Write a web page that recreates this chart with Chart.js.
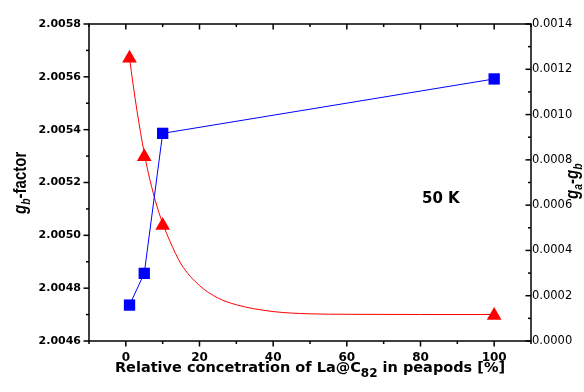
<!DOCTYPE html>
<html>
<head>
<meta charset="utf-8">
<script src="https://cdn.jsdelivr.net/npm/chart.js@4.4.1/dist/chart.umd.min.js"></script>
<style>
  html, body { margin: 0; padding: 0; background: #fff; }
  #wrap { width: 584px; height: 392px; }
</style>
</head>
<body>
<div id="wrap"><canvas id="chart"></canvas></div>
<script>
// concentration of La@C82 in peapods [%]
let conc = [1, 5, 10, 100]
// g_b-factor (left axis, blue squares)
let gb = [2.004736, 2.004856, 2.005386, 2.005592]
// g_a - g_b (right axis, red triangles)
let gaGb = [0.001249, 0.000814, 0.000510, 0.000113]
// fitted decay curve (right axis)
let fitX = [1, 2, 3, 4, 5, 6, 8, 10, 12, 15, 20, 25, 30, 40, 50, 60, 80, 100]
let fitY = [0.00125, 0.00113, 0.00102, 0.00092, 0.00083, 0.00075, 0.00062, 0.00052, 0.00044, 0.00034, 0.000245, 0.00019, 0.00016, 0.00013, 0.00012, 0.000118, 0.000117, 0.000117]

let xTicks = [0, 20, 40, 60, 80, 100]
let leftTicks = [2.0046, 2.0048, 2.0050, 2.0052, 2.0054, 2.0056, 2.0058]
let rightTicks = [0, 0.0002, 0.0004, 0.0006, 0.0008, 0.0010, 0.0012, 0.0014]

function toPts(xs, ys) {
    return xs.map((x, i) => ({x: x, y: ys[i]}))
}

function setTicks(list) {
    return s => { s.ticks = list.map(v => ({value: v})) }
}

// tick marks: dir is +1/-1 along the perpendicular
function marks(ctx, scale, list, horizontal, base, dir) {
    let step = list[1] - list[0]
    let vals = []
    list.forEach(v => { vals.push([v, 5.5]); vals.push([v + step / 2, 3]) })
    vals.push([list[0] - step / 2, 3])
    vals.forEach(([v, len]) => {
        if (v < scale.min - 1e-9 || v > scale.max + 1e-9) return
        let p = scale.getPixelForValue(v)
        ctx.beginPath()
        if (horizontal) { ctx.moveTo(p, base); ctx.lineTo(p, base + dir * len) }
        else { ctx.moveTo(base, p); ctx.lineTo(base + dir * len, p) }
        ctx.stroke()
    })
}

function rotTitle(ctx, x, y, parts) {
    ctx.save()
    ctx.translate(x, y)
    ctx.rotate(-Math.PI / 2)
    ctx.scale(1, 1.2)
    ctx.textBaseline = 'alphabetic'
    ctx.textAlign = 'left'
    let pos = 0
    parts.forEach(([txt, font, dy]) => {
        ctx.font = font
        ctx.fillText(txt, pos, dy)
        pos += ctx.measureText(txt).width
    })
    ctx.restore()
}

const frame = {
    id: 'frame',
    afterDraw(chart) {
        const {ctx, chartArea: a, scales} = chart
        ctx.save()
        ctx.strokeStyle = '#000'
        ctx.lineWidth = 1.5
        ctx.strokeRect(a.left, a.top, a.right - a.left, a.bottom - a.top)
        marks(ctx, scales.x, xTicks, true, a.bottom, 1)
        marks(ctx, scales.x, xTicks, true, a.top, 1)
        marks(ctx, scales.y, leftTicks, false, a.left, -1)
        marks(ctx, scales.y2, rightTicks, false, a.right, -1)

        ctx.fillStyle = '#000'
        // x axis title with subscript
        let t1 = 'Relative concetration of La@C', sub = '82', t2 = ' in peapods [%]'
        let big = 'bold 14.5px "DejaVu Sans"', small = 'bold 12px "DejaVu Sans"'
        ctx.font = big
        let w1 = ctx.measureText(t1).width, w3 = ctx.measureText(t2).width
        ctx.font = small
        let w2 = ctx.measureText(sub).width
        let x0 = (a.left + a.right) / 2 - (w1 + w2 + w3) / 2
        ctx.textBaseline = 'alphabetic'
        ctx.textAlign = 'left'
        ctx.font = big
        ctx.fillText(t1, x0, 372)
        ctx.font = small
        ctx.fillText(sub, x0 + w1, 377)
        ctx.font = big
        ctx.fillText(t2, x0 + w1 + w2, 372)

        // rotated titles
        let gI = 'italic bold 15px "Liberation Sans"'
        let sI = 'italic bold 10.5px "Liberation Sans"'
        let nB = 'bold 15px "Liberation Sans"'
        rotTitle(ctx, 26, 214, [['g', gI, 0], ['b', sI, 3], ['-factor', nB, 0]])
        rotTitle(ctx, 578, 199, [['g', gI, 0], ['a', sI, 3], ['-', nB, 0], ['g', gI, 0], ['b', sI, 3]])

        // temperature label
        ctx.font = 'bold 15px "DejaVu Sans"'
        ctx.fillText('50 K', 422, 203)
        ctx.restore()
    }
}

new Chart(document.getElementById('chart'), {
    type: 'line',
    data: {
        datasets: [
            {
                label: 'g_b-factor',
                data: toPts(conc, gb),
                yAxisID: 'y',
                borderColor: '#0000ff',
                backgroundColor: '#0000ff',
                borderWidth: 1,
                pointStyle: 'rect',
                pointRadius: 8,
                pointBorderWidth: 0,
                tension: 0
            },
            {
                label: 'fit',
                data: toPts(fitX, fitY),
                yAxisID: 'y2',
                borderColor: '#ff0000',
                borderWidth: 1,
                pointRadius: 0,
                cubicInterpolationMode: 'monotone'
            },
            {
                label: 'g_a-g_b',
                data: toPts(conc, gaGb),
                yAxisID: 'y2',
                showLine: false,
                borderColor: '#ff0000',
                backgroundColor: '#ff0000',
                pointStyle: 'triangle',
                pointRadius: 8.5,
                pointBorderWidth: 0
            }
        ]
    },
    options: {
        responsive: true,
        maintainAspectRatio: false,
        animation: false,
        layout: {padding: {top: 24, left: 0, right: 0, bottom: 0}},
        plugins: {
            legend: {display: false},
            tooltip: {enabled: false}
        },
        scales: {
            x: {
                type: 'linear',
                min: -10,
                max: 110,
                afterBuildTicks: setTicks(xTicks),
                afterFit: s => { s.height = 51 },
                grid: {display: false, drawTicks: false},
                border: {display: false},
                ticks: {
                    padding: 10,
                    color: '#000',
                    font: {family: 'DejaVu Sans', size: 12, weight: 'bold'},
                    maxRotation: 0
                }
            },
            y: {
                position: 'left',
                min: 2.0046,
                max: 2.0058,
                afterBuildTicks: setTicks(leftTicks),
                afterFit: s => { s.width = 89 },
                grid: {display: false, drawTicks: false},
                border: {display: false},
                ticks: {
                    padding: 8,
                    color: '#000',
                    font: {family: 'DejaVu Sans', size: 11, weight: 'bold'},
                    callback: v => v.toFixed(4)
                }
            },
            y2: {
                position: 'right',
                min: 0,
                max: 0.0014,
                afterBuildTicks: setTicks(rightTicks),
                afterFit: s => { s.width = 53 },
                grid: {display: false, drawTicks: false},
                border: {display: false},
                ticks: {
                    padding: 1,
                    color: '#000',
                    font: {family: 'DejaVu Sans', size: 11.5},
                    callback: v => v.toFixed(4)
                }
            }
        }
    },
    plugins: [frame]
})
</script>
</body>
</html>
